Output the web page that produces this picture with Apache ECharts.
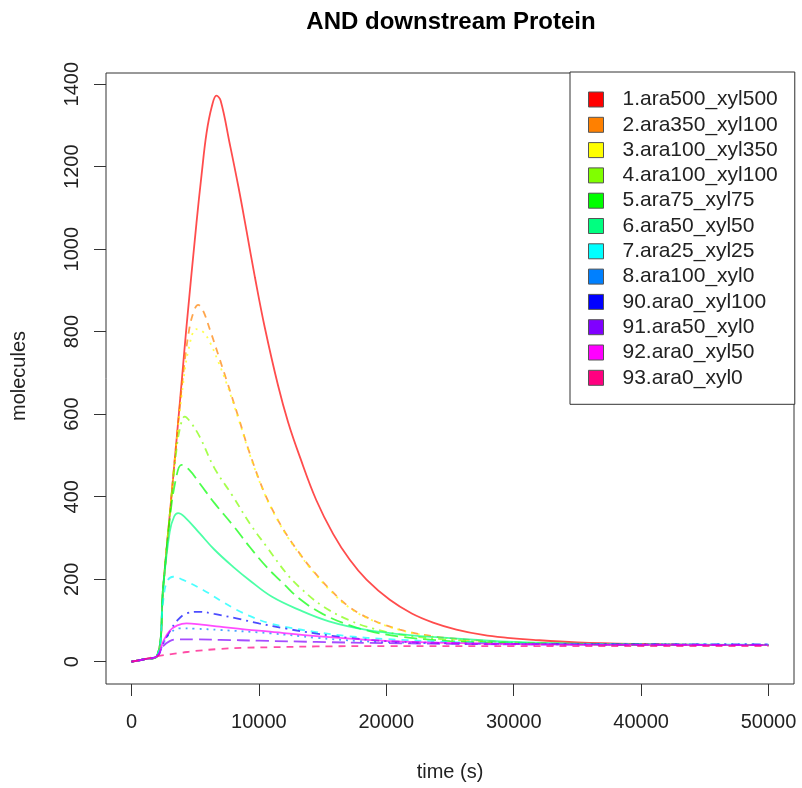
<!DOCTYPE html>
<html>
<head>
<meta charset="utf-8">
<script src="https://cdn.jsdelivr.net/npm/echarts@6/dist/echarts.min.js"></script>
<style>html,body{margin:0;padding:0;background:#fff}#c{width:802px;height:788px}</style>
</head>
<body>
<div id="c"></div>
<script>
const seriesNames = ['1.ara500_xyl500','2.ara350_xyl100','3.ara100_xyl350','4.ara100_xyl100','5.ara75_xyl75','6.ara50_xyl50','7.ara25_xyl25','8.ara100_xyl0','90.ara0_xyl100','91.ara50_xyl0','92.ara0_xyl50','93.ara0_xyl0'];
const xTicks = [0,10000,20000,30000,40000,50000];
const yTicks = [0,200,400,600,800,1000,1200,1400];

const s1 = [[0,0],[1000,6],[2000,13],[2500,185],[3000,355],[3500,525],[4000,700],[4317,812],[5100,1063],[5500,1180],[5890,1281],[6300,1345],[6670,1372],[7000,1360],[7716,1255],[8400,1150],[9027,1045],[9700,930],[10463,810],[11500,670],[12300,580],[13211,497],[14500,392],[15824,310],[17135,247],[18446,199],[20275,150],[22000,117],[23673,95],[25500,78],[27600,65],[29500,58],[31520,53],[35000,47],[40000,43],[45000,41],[50000,40]];
const s2 = [[0,0],[1000,6],[2000,13],[2500,185],[3000,355],[3500,525],[4000,680],[4500,800],[4900,850],[5230,865],[5600,852],[6146,806],[6800,745],[7457,683],[8400,592],[9285,505],[10400,412],[11380,350],[12300,302],[13211,262],[14000,230],[15500,178],[17135,132],[19000,100],[21060,78],[23000,65],[24985,57],[27500,51],[30000,47],[35000,43],[40000,41],[45000,40],[50000,40]];
const s3 = [[0,0],[1000,6],[2000,13],[2500,185],[3000,355],[3500,520],[4000,660],[4500,760],[5100,806],[5600,800],[6146,775],[6800,728],[7457,675],[8400,588],[9285,502],[10400,410],[11380,348],[12300,300],[13211,260],[14000,228],[15500,176],[17135,130],[19000,99],[21060,77],[23000,64],[24985,56],[27500,50],[30000,46],[35000,43],[40000,41],[45000,40],[50000,40]];
const s4 = [[0,0],[1000,6],[2000,13],[2500,185],[3000,355],[3500,505],[3800,565],[4184,594],[4600,582],[5360,545],[6500,470],[7980,400],[9285,335],[10600,279],[12166,214],[13211,180],[15000,135],[17135,100],[19000,80],[21060,66],[25000,53],[30000,46],[35000,43],[40000,41],[50000,40]];
const s5 = [[0,0],[1000,6],[2000,13],[2500,185],[3000,345],[3500,445],[3925,477],[4500,466],[5360,432],[6500,385],[7980,330],[9285,278],[10600,230],[12000,187],[13211,152],[15000,116],[17135,88],[19000,72],[21060,61],[25000,50],[30000,45],[40000,41],[50000,40]];
const s6 = [[0,0],[1000,6],[2000,13],[2500,185],[3000,315],[3350,352],[3660,360],[4200,350],[5360,311],[6500,272],[7980,230],[9285,197],[11000,158],[13211,125],[15500,98],[18446,77],[21000,67],[23670,60],[27500,52],[30000,48],[35000,44],[40000,42],[50000,41]];
const s7 = [[0,0],[1000,6],[2000,13],[2500,150],[2800,195],[3265,206],[4000,199],[5620,174],[7000,148],[8240,126],[9500,108],[10855,93],[12500,82],[14255,73],[17000,62],[20000,55],[25000,48],[30000,44],[40000,42],[50000,41]];
const s8 = [[0,0],[1000,6],[2000,13],[2500,45],[3000,68],[3790,81],[5000,80],[6930,77],[10855,69],[14500,58],[18000,50],[22000,46],[30000,43],[40000,42],[50000,42]];
const s90 = [[0,0],[1000,6],[2000,13],[2500,45],[3006,73],[3600,100],[4317,117],[5360,121],[6500,116],[8240,105],[10000,93],[12166,80],[14520,68],[17000,58],[20000,50],[25000,45],[30000,43],[40000,42],[50000,42]];
const s91 = [[0,0],[1000,6],[2000,13],[2500,38],[3000,50],[3530,54],[5000,54],[7000,53],[10000,51],[14500,48],[20000,45],[30000,42],[40000,41],[50000,40]];
const s92 = [[0,0],[1000,6],[2000,13],[2500,50],[3000,75],[3600,88],[4317,93],[5500,90],[6930,85],[9000,78],[10855,73],[14500,62],[18000,54],[22000,48],[30000,43],[40000,41],[50000,40]];
const s93 = [[0,0],[1000,6],[2000,13],[3000,18],[4000,22],[5000,26],[6930,31],[9000,34],[10855,35],[14500,37],[20000,38],[30000,38],[40000,38],[50000,38]];

const allData = [s1,s2,s3,s4,s5,s6,s7,s8,s90,s91,s92,s93];
const colors = ['#FF0000','#FF8000','#FFFF00','#80FF00','#00FF00','#00FF80','#00FFFF','#0080FF','#0000FF','#8000FF','#FF00FF','#FF0080'];
const dashes = ['solid',[7,6],[2,5],[2,5,8,5],[13,6]];

function rgba(hex, a){
  const r=parseInt(hex.slice(1,3),16),g=parseInt(hex.slice(3,5),16),b=parseInt(hex.slice(5,7),16);
  return 'rgba('+r+','+g+','+b+','+a+')';
}

const FONT = '"Liberation Sans", Arial, Helvetica, sans-serif';
const chart = echarts.init(document.getElementById('c'));
chart.setOption({
  animation: false,
  backgroundColor: '#fff',
  grid: {left: 106, right: 8, top: 73, bottom: 104, show: true, borderColor: '#333', borderWidth: 1, containLabel: false},
  xAxis: {
    type: 'value', min: -2000, max: 52000,
    axisLine: {show: false, onZero: false},
    splitLine: {show: false},
    axisTick: {show: true, customValues: xTicks, length: 12, lineStyle: {color: '#333', width: 1}},
    axisLabel: {customValues: xTicks, margin: 28, color: '#222', fontSize: 20, fontFamily: FONT, formatter: v => String(v)}
  },
  yAxis: {
    type: 'value', min: -54, max: 1427,
    axisLine: {show: false, onZero: false},
    splitLine: {show: false},
    axisTick: {show: true, customValues: yTicks, length: 12, lineStyle: {color: '#333', width: 1}},
    axisLabel: {customValues: yTicks, rotate: 90, margin: 24, color: '#222', fontSize: 20, fontFamily: FONT, formatter: v => String(v)}
  },
  legend: {
    left: 570, top: 72, orient: 'vertical',
    backgroundColor: '#fff', borderColor: '#333', borderWidth: 1,
    padding: [17, 17, 16, 18],
    icon: 'rect', itemWidth: 15, itemHeight: 15, itemGap: 4.3,
    itemStyle: {borderColor: '#555', borderWidth: 1},
    textStyle: {fontSize: 21, fontFamily: FONT, color: '#222', lineHeight: 20, padding: [0,0,0,14]},
    data: seriesNames
  },
  graphic: [
    {type: 'text', x: 451, y: 22, style: {text: 'AND downstream Protein', font: 'bold 24px ' + FONT, fill: '#000', align: 'center', verticalAlign: 'middle'}},
    {type: 'text', x: 450, y: 772, style: {text: 'time (s)', font: '20px ' + FONT, fill: '#222', align: 'center', verticalAlign: 'middle'}},
    {type: 'text', x: 19, y: 376, rotation: Math.PI/2, style: {text: 'molecules', font: '20px ' + FONT, fill: '#222', align: 'center', verticalAlign: 'middle'}}
  ],
  series: allData.map((d, i) => ({
    name: seriesNames[i], type: 'line', data: d, showSymbol: false, symbol: 'none',
    smooth: 0.4,
    itemStyle: {color: colors[i]},
    lineStyle: {color: rgba(colors[i], 0.7), width: 1.8, type: dashes[i % 5]},
    emphasis: {disabled: true}
  }))
});
</script>
</body>
</html>
